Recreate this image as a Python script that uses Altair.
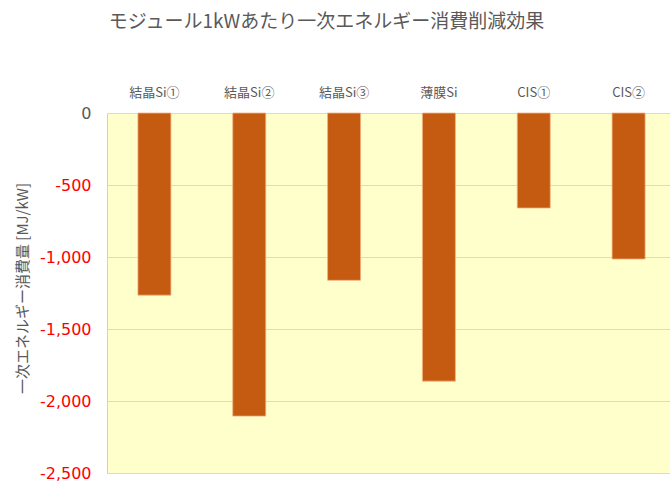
import altair as alt
import pandas as pd

categories = ["結晶Si①", "結晶Si②", "結晶Si③", "薄膜Si", "CIS①", "CIS②"]
values = [-1265, -2105, -1162, -1862, -660, -1014]

df = pd.DataFrame({"cat": categories, "val": values})

JP = "Noto Sans CJK JP"

chart = alt.Chart(df).mark_bar(
    size=33, color="#C55A11", stroke="#F4B183", strokeWidth=0.8
).encode(
    x=alt.X("cat:N", sort=categories, title=None,
            scale=alt.Scale(range=[0, 569]),
            axis=alt.Axis(orient="top", ticks=False, domain=False, labelAngle=0,
                          labelFont=JP, labelFontSize=13, labelColor="#595959",
                          labelPadding=14)),
    y=alt.Y("val:Q", title="一次エネルギー消費量 [MJ/kW]",
            scale=alt.Scale(domain=[-2500, 0], nice=False),
            axis=alt.Axis(values=[0, -500, -1000, -1500, -2000, -2500],
                          labelExpr="replace(format(datum.value, ',.0f'), '\u2212', '-')",
                          ticks=False, domain=False, gridColor="#d9d9d9",
                          labelFont="DejaVu Sans", labelFontSize=16,
                          labelColor={"condition": {"test": "datum.value == 0", "value": "#595959"}, "value": "#FF0000"},
                          labelPadding=16, titleFont=JP, titleFontSize=15,
                          titleFontWeight="normal", titleColor="#595959",
                          titleX=-85, titleY=175, titleBaseline="middle", titleAlign="center",
                          titleAngle=270)),
).properties(
    width=563, height=360,
    title=alt.TitleParams("モジュール1kWあたり一次エネルギー消費削減効果",
                          font=JP, fontSize=19, fontWeight="normal", color="#595959",
                          anchor="middle", dx=-62, offset=54),
    autosize=alt.AutoSizeParams(type="none"),
    padding={"left": 107, "top": 113, "right": 0, "bottom": 10},
    background="white",
).configure_view(
    fill="#FFFFCC", stroke="#d0d0d0", strokeWidth=1
)

chart.save("out.html", embed_options={"renderer": "svg", "actions": False})
